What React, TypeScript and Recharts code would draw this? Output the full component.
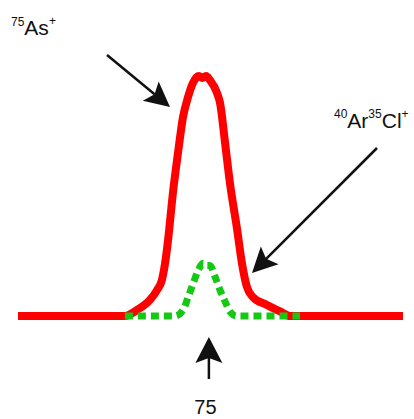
import { LineChart, Line, XAxis, YAxis, Customized } from 'recharts';

// m/z positions and intensities (percent of the As peak)
const asMz = [
  74.0, 74.572, 74.637, 74.706, 74.744, 74.77, 74.787, 74.803, 74.829, 74.856, 74.883,
  74.91, 74.936, 74.968, 74.987, 75.006, 75.027, 75.065, 75.081, 75.108, 75.134, 75.172,
  75.198, 75.225, 75.257, 75.332, 75.402, 75.455, 76.06,
];
const asIntensity = [
  0, 0, 2.5, 6.7, 10.8, 15, 22, 31.7, 51.3, 67.9, 82.9,
  91.3, 97.1, 100, 99.2, 100, 98.3, 92.9, 88.8, 72.1, 55.4, 36.3,
  22.1, 12.1, 7.9, 4.6, 1.9, 0, 0,
];

const arClMz = [
  74.572, 74.84, 74.884, 74.911, 74.938, 74.965, 74.991, 75.006, 75.027, 75.054, 75.081,
  75.108, 75.134, 75.17, 75.509,
];
const arClIntensity = [0, 0, 2.5, 8, 13.7, 19.2, 22, 21, 21, 16.4, 10.8, 6, 1.8, 0, 0];

const xTicks = [75];

const asData = asMz.map((x, i) => ({ x, y: asIntensity[i] }));
const arClData = arClMz.map((x, i) => ({ x, y: arClIntensity[i] }));

const FONT = '"Liberation Sans", Arial, sans-serif';
const INK = '#111111';

const Arrow = ({ x1, y1, x2, y2, head = 25, half = 12.5 }: any) => {
  const len = Math.hypot(x2 - x1, y2 - y1);
  const ux = (x2 - x1) / len;
  const uy = (y2 - y1) / len;
  const nx = -uy;
  const ny = ux;
  const bx = x2 - ux * head;
  const by = y2 - uy * head;
  const kx = x2 - ux * (head - 5);
  const ky = y2 - uy * (head - 5);
  const d = `M${x2},${y2} L${bx + nx * half},${by + ny * half} L${kx},${ky} L${bx - nx * half},${by - ny * half} Z`;
  return (
    <g>
      <line x1={x1} y1={y1} x2={kx} y2={ky} stroke={INK} strokeWidth={2.5} />
      <path d={d} fill={INK} />
    </g>
  );
};

const Annotations = () => (
  <g fontFamily={FONT} fill={INK}>
    <text x={11} y={35}>
      <tspan fontSize={12} dy={-9.5}>75</tspan>
      <tspan fontSize={21} dy={9.5}>As</tspan>
      <tspan fontSize={12} dy={-10}>+</tspan>
    </text>
    <Arrow x1={107} y1={55} x2={170} y2={107} />
    <text x={334} y={128}>
      <tspan fontSize={12} dy={-10}>40</tspan>
      <tspan fontSize={21} dy={10}>Ar</tspan>
      <tspan fontSize={12} dy={-10}>35</tspan>
      <tspan fontSize={21} dy={10}>Cl</tspan>
      <tspan fontSize={12} dy={-10}>+</tspan>
    </text>
    <Arrow x1={377} y1={148} x2={252} y2={273} />
  </g>
);

const MassTick = ({ x, y, payload }: any) => (
  <g>
    <Arrow x1={x + 4} y1={y + 63} x2={x + 4} y2={y + 21} head={26} half={13.5} />
    <text x={x + 0.5} y={y + 98} textAnchor="middle" fontFamily={FONT} fontSize={20} fill={INK}>
      {payload.value}
    </text>
  </g>
);

export default function App() {
  return (
    <div style={{ position: 'absolute', left: 0, top: 0, background: '#fff' }}>
      <LineChart width={414} height={419} margin={{ top: 76, right: 11, bottom: 0, left: 18 }}>
        <XAxis
          dataKey="x"
          type="number"
          domain={[74, 76.06]}
          ticks={xTicks}
          height={103}
          axisLine={false}
          tickLine={false}
          tickSize={0}
          tickMargin={0}
          tick={<MassTick />}
        />
        <YAxis hide type="number" domain={[0, 100]} />
        <Line
          data={asData}
          dataKey="y"
          type="monotone"
          stroke="#ff0000"
          strokeWidth={8}
          dot={false}
          activeDot={false}
          isAnimationActive={false}
        />
        <Line
          data={arClData}
          dataKey="y"
          type="monotone"
          stroke="#14c814"
          strokeWidth={7}
          strokeDasharray="8 5"
          dot={false}
          activeDot={false}
          isAnimationActive={false}
        />
        <Customized component={Annotations} />
      </LineChart>
    </div>
  );
}
